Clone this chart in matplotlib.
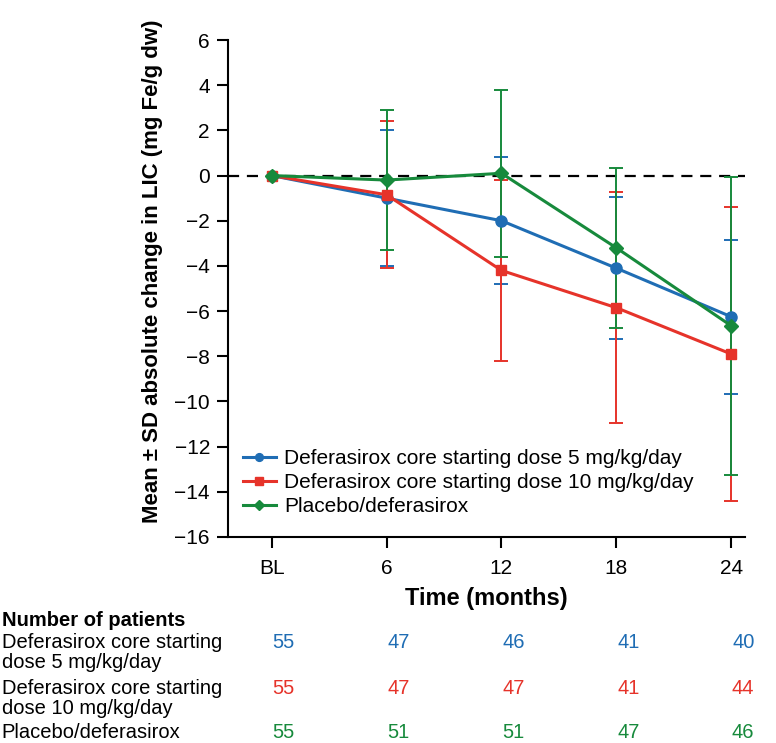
import numpy as np
import matplotlib
matplotlib.use("Agg")
import matplotlib.pyplot as plt

plt.rcParams['font.family'] = ['Liberation Sans', 'DejaVu Sans']

# データ
time_labels = ["BL", "6", "12", "18", "24"]
mean_5mg = [0.0, -1.0, -2.0, -4.1, -6.25]
sd_5mg = [0.0, 3.0, 2.8, 3.15, 3.4]
mean_10mg = [0.0, -0.85, -4.2, -5.85, -7.9]
sd_10mg = [0.0, 3.25, 4.0, 5.1, 6.5]
mean_pbo = [0.0, -0.2, 0.1, -3.2, -6.65]
sd_pbo = [0.0, 3.1, 3.7, 3.55, 6.6]

names_series = ["Deferasirox core starting dose 5 mg/kg/day",
                "Deferasirox core starting dose 10 mg/kg/day",
                "Placebo/deferasirox"]
table_names = ["Deferasirox core starting\ndose 5 mg/kg/day",
               "Deferasirox core starting\ndose 10 mg/kg/day",
               "Placebo/deferasirox"]
n_5mg = [55, 47, 46, 41, 40]
n_10mg = [55, 47, 47, 41, 44]
n_pbo = [55, 51, 51, 47, 46]

c_blue = "#1f6db4"
c_red = "#e6332a"
c_green = "#178a3c"

W, H = 776, 743
fig = plt.figure(figsize=(W / 100, H / 100), dpi=100)
ax = fig.add_axes([228 / W, 1 - 537 / H, 517 / W, 497 / H])

x = np.arange(len(time_labels))
ax.axhline(0, color="black", lw=1.6, ls=(0, (5, 3.5)), zorder=1)

series = [(mean_5mg, sd_5mg, c_blue, "o", 8),
          (mean_10mg, sd_10mg, c_red, "s", 7.5),
          (mean_pbo, sd_pbo, c_green, "D", 7)]
for (m, s, c, mk, ms), lab in zip(series, names_series):
    # BLにはエラーバーなし
    ax.errorbar(x[1:], m[1:], yerr=s[1:], fmt="none", ecolor=c, elinewidth=1.4,
                capsize=5, capthick=1.4, zorder=2)
    ax.plot(x, m, color=c, lw=2.2, marker=mk, ms=ms, label=lab, zorder=3)

ax.set_xlim(-0.38, 4.12)
ax.set_ylim(-16, 6)
ax.set_yticks(np.arange(-16, 7, 2))
ax.set_yticklabels([str(v).replace("-", "\u2212") for v in range(-16, 7, 2)])
ax.set_xticks(x)
ax.set_xticklabels(time_labels)
ax.spines["top"].set_visible(False)
ax.spines["right"].set_visible(False)
ax.spines["left"].set_linewidth(1.5)
ax.spines["bottom"].set_linewidth(1.5)
ax.tick_params(axis="both", direction="out", length=8, width=1.5, labelsize=15, pad=5)
ax.tick_params(axis="x", pad=8)

ax.set_ylabel("Mean \u00b1 SD absolute change in LIC (mg Fe/g dw)", fontsize=16,
              fontweight="bold")
ax.yaxis.set_label_coords(-0.125, 0.535)
ax.set_xlabel("Time (months)", fontsize=17, fontweight="bold", labelpad=6)

leg = ax.legend(loc="lower left", bbox_to_anchor=(0.0, 0.012),
                frameon=False, fontsize=15, handlelength=1.6, handletextpad=0.4,
                labelspacing=0.25, borderaxespad=0.3, markerscale=0.7)

# 患者数の表
fs = 14.5
fig.text(0.002, 1 - 620 / H, "Number of patients", fontsize=fs, fontweight="bold",
         va="center", ha="left")
row_y = [643, 688, 733]
for name, counts, c, yy in zip(table_names, [n_5mg, n_10mg, n_pbo],
                               [c_blue, c_red, c_green], row_y):
    lines = name.split("\n")
    for k, line in enumerate(lines):
        fig.text(0.002, 1 - (yy + 20 * k) / H, line, fontsize=fs,
                 va="center", ha="left")
    for xi, n in zip(x, counts):
        xf = fig.transFigure.inverted().transform(ax.transData.transform((xi, 0)))[0]
        fig.text(xf + 12 / W, 1 - yy / H, str(n), fontsize=fs, color=c,
                 va="center", ha="center")

fig.savefig("out.png", dpi=100)
